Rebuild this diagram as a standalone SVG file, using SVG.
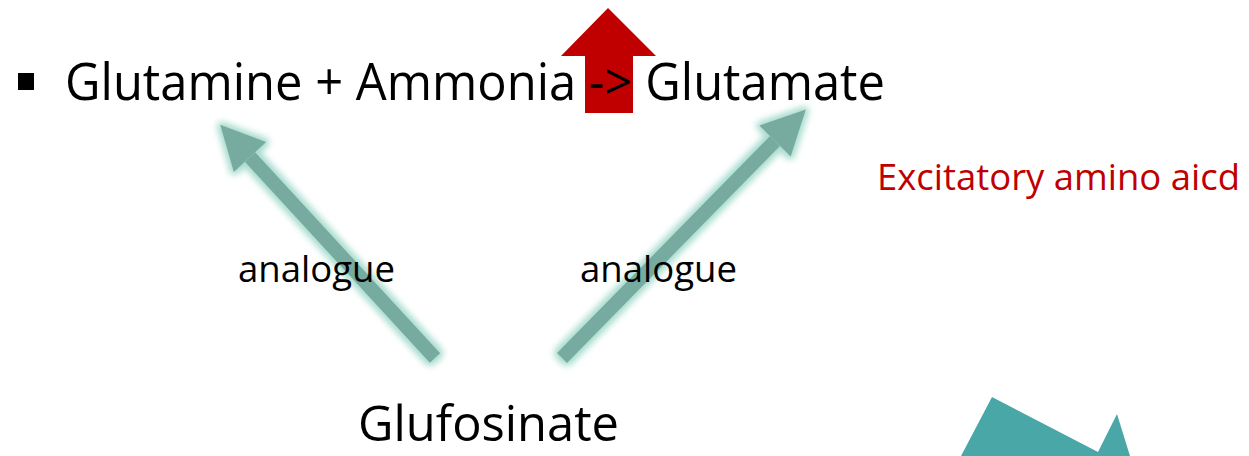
<svg xmlns="http://www.w3.org/2000/svg" width="1249" height="456" viewBox="0 0 1249 456">
<style>
.t{font-family:"Open Sans","Noto Sans","Liberation Sans",sans-serif;fill:#000}
.red{fill:#c00000}
.shaft{stroke:#77ab9f;stroke-width:14;fill:none}
</style>
<defs>
<filter id="glow" x="-20%" y="-20%" width="140%" height="140%">
<feMorphology in="SourceAlpha" operator="dilate" radius="3" result="d"/>
<feGaussianBlur in="d" stdDeviation="3" result="b"/>
<feFlood flood-color="#a8dccf" result="c"/>
<feComposite in="c" in2="b" operator="in" result="g"/>
<feMerge><feMergeNode in="g"/><feMergeNode in="SourceGraphic"/></feMerge>
</filter>
<marker id="head" markerUnits="userSpaceOnUse" viewBox="0 -23 44 46" refX="0" refY="0" markerWidth="44" markerHeight="46" orient="auto" overflow="visible">
<path d="M0,-22 L44,0 L0,22 Z" fill="#77ab9f"/>
</marker>
</defs>
<rect width="1249" height="456" fill="#fff"/>
<g id="up-arrow">
<polygon class="red" points="608,8 656,56 633,56 633,113 585,113 585,56 561,56"/>
</g>
<g id="reaction">
<rect x="18" y="73" width="16" height="17" fill="#000"/>
<text class="t" x="65" y="100" font-size="52" textLength="820" lengthAdjust="spacingAndGlyphs">Glutamine + Ammonia -&gt; Glutamate</text>
</g>
<g id="connectors" filter="url(#glow)">
<line class="shaft" x1="435" y1="358" x2="250" y2="157" marker-end="url(#head)"/>
<line class="shaft" x1="562" y1="358" x2="775" y2="141" marker-end="url(#head)"/>
</g>
<g id="labels">
<text class="t" x="238" y="282" font-size="37" textLength="157" lengthAdjust="spacingAndGlyphs">analogue</text>
<text class="t" x="580" y="282" font-size="37" textLength="157" lengthAdjust="spacingAndGlyphs">analogue</text>
</g>
<g id="excitatory">
<text class="t red" x="877" y="190" font-size="37" textLength="363" lengthAdjust="spacingAndGlyphs">Excitatory amino aicd</text>
</g>
<g id="glufosinate">
<text class="t" x="358" y="441" font-size="50" textLength="261" lengthAdjust="spacingAndGlyphs">Glufosinate</text>
</g>
<g id="shape">
<polygon points="992,397 1098,452 1117,414 1130,456 961,456" fill="#49a7a7"/>
</g>
</svg>
